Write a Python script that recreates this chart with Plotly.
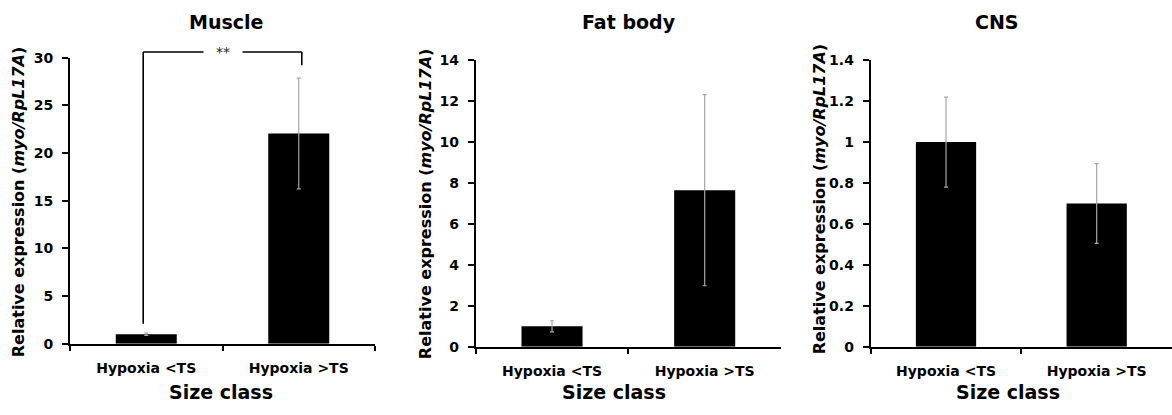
import plotly.graph_objects as go

W, H = 1172, 415
FONT = "DejaVu Sans"

categories = ["Hypoxia <TS", "Hypoxia >TS"]
tick_labels = ["<b>Hypoxia &lt;TS</b>", "<b>Hypoxia &gt;TS</b>"]

panel_titles = ["Muscle", "Fat body", "CNS"]

muscle_vals = [1.0, 22.05]
muscle_err = [0.12, 5.8]
fat_vals = [1.0, 7.65]
fat_err = [0.27, 4.67]
cns_vals = [1.0, 0.70]
cns_err = [0.22, 0.195]

y_max = [30, 14, 1.4]
y_tickvals = [
    [0, 5, 10, 15, 20, 25, 30],
    [0, 2, 4, 6, 8, 10, 12, 14],
    [0, 0.2, 0.4, 0.6, 0.8, 1, 1.2, 1.4],
]
y_ticktext = [
    ["0", "5", "10", "15", "20", "25", "30"],
    ["0", "2", "4", "6", "8", "10", "12", "14"],
    ["0", "0.2", "0.4", "0.6", "0.8", "1", "1.2", "1.4"],
]

# significance bracket (Muscle): data units
bracket_top = 30.6
bracket_left_end = 2.1
bracket_right_end = 29.2
bracket_label = "**"

series_vals = [muscle_vals, fat_vals, cns_vals]
series_err = [muscle_err, fat_err, cns_err]

# layout geometry (pixels)
x_domains_px = [(70, 375), (475.7, 781), (870.7, 1172)]
y_domains_px = [(51.7, 349.3), (54.3, 352.3), (54.3, 352.3)]
title_x_px = [226, 629, 997]
ytitle_x_px = [18, 425, 819]
ytitle_y_px = [202, 204, 199]
xtitle_x_px = [221, 614, 1008]

fig = go.Figure()

for i in range(3):
    xa = "x" if i == 0 else f"x{i+1}"
    ya = "y" if i == 0 else f"y{i+1}"
    fig.add_trace(go.Bar(
        x=categories, y=series_vals[i],
        xaxis=xa, yaxis=ya,
        marker=dict(color="black", line=dict(width=0)),
        error_y=dict(type="data", array=series_err[i], visible=True,
                     color="#a6a6a6", thickness=1.2, width=2),
        showlegend=False,
    ))

layout = dict(
    width=W, height=H,
    margin=dict(l=0, r=0, t=0, b=0),
    paper_bgcolor="white", plot_bgcolor="white",
    bargap=0.6,
    font=dict(family=FONT, color="black"),
    annotations=[], shapes=[],
)

for i in range(3):
    sfx = "" if i == 0 else str(i + 1)
    x0, x1 = x_domains_px[i]
    yt, yb = y_domains_px[i]
    layout["xaxis" + sfx] = dict(
        domain=[x0 / W, x1 / W], anchor="y" + sfx,
        type="category", range=[-0.5, 1.5],
        tickmode="array", tickvals=categories, ticktext=tick_labels,
        tickson="boundaries", ticks="outside", ticklen=5, tickwidth=2,
        tickcolor="black", ticklabelstandoff=10,
        showline=True, linecolor="black", linewidth=2,
        showgrid=False, zeroline=False,
        tickfont=dict(size=14, family=FONT, color="black"),
        fixedrange=True,
    )
    layout["yaxis" + sfx] = dict(
        domain=[1 - yb / H, 1 - yt / H], anchor="x" + sfx,
        range=[0, y_max[i]],
        tickmode="array", tickvals=y_tickvals[i],
        ticktext=[f"<b>{t}</b>" for t in y_ticktext[i]],
        ticks="outside", ticklen=6, tickwidth=2, tickcolor="black",
        ticklabelstandoff=6,
        showline=True, linecolor="black", linewidth=2,
        showgrid=False, zeroline=False,
        tickfont=dict(size=14, family=FONT, color="black"),
        fixedrange=True,
    )
    layout["annotations"].append(dict(
        text=f"<b>{panel_titles[i]}</b>", xref="paper", yref="paper",
        x=title_x_px[i] / W, y=1 - 15 / H, xanchor="center", yanchor="middle",
        showarrow=False, font=dict(size=19, family=FONT, color="black"),
    ))
    layout["annotations"].append(dict(
        text="<b>Relative expression (<i>myo/RpL17A</i>)</b>",
        xref="paper", yref="paper",
        x=ytitle_x_px[i] / W, y=1 - ytitle_y_px[i] / H,
        xanchor="center", yanchor="middle", textangle=-90,
        showarrow=False, font=dict(size=16, family=FONT, color="black"),
    ))
    layout["annotations"].append(dict(
        text="<b>Size class</b>", xref="paper", yref="paper",
        x=xtitle_x_px[i] / W, y=1 - 399 / H, xanchor="center", yanchor="middle",
        showarrow=False, font=dict(size=19, family=FONT, color="black"),
    ))

# significance bracket on Muscle panel
ym = y_max[0]
bracket_x = [-0.02, 1.02]
layout["shapes"] += [
    dict(type="line", xref="x", yref="y domain",
         x0=bracket_x[0], x1=bracket_x[1], y0=bracket_top / ym, y1=bracket_top / ym,
         line=dict(color="black", width=1.6)),
    dict(type="line", xref="x", yref="y domain",
         x0=bracket_x[0], x1=bracket_x[0], y0=bracket_top / ym, y1=bracket_left_end / ym,
         line=dict(color="black", width=1.6)),
    dict(type="line", xref="x", yref="y domain",
         x0=bracket_x[1], x1=bracket_x[1], y0=bracket_top / ym, y1=bracket_right_end / ym,
         line=dict(color="black", width=1.6)),
]
layout["annotations"].append(dict(
    text=bracket_label, xref="x", yref="y domain",
    x=0.5, y=bracket_top / ym, xanchor="center", yanchor="middle",
    showarrow=False, bgcolor="white", width=36, height=12,
    font=dict(size=14, family=FONT, color="#222222"),
))

fig.update_layout(**layout)
fig.write_html(
    "out.html",
    post_script="document.body.style.margin='0';document.body.style.overflow='hidden';",
)
